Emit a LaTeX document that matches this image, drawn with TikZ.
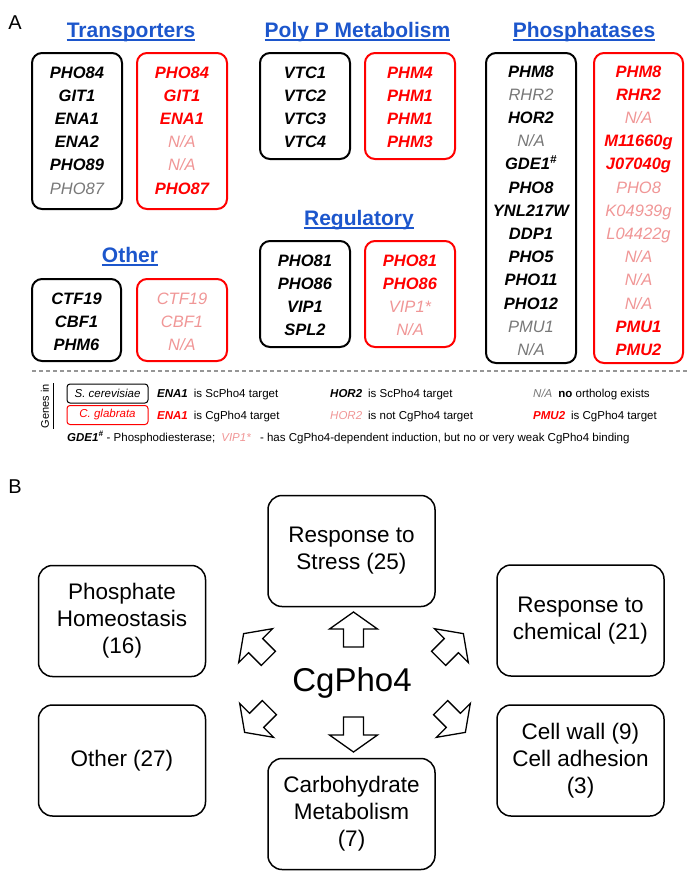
\documentclass[tikz,border=0pt]{standalone}
\usepackage{fontspec}
\setmainfont{Liberation Sans}
\usetikzlibrary{positioning}

\definecolor{titleblue}{RGB}{28,86,204}
\definecolor{cgred}{RGB}{255,0,0}
\definecolor{napink}{RGB}{240,150,150}
\definecolor{nagray}{RGB}{120,120,120}
\definecolor{dashgray}{RGB}{150,150,150}

\newcommand{\na}{N/A}
% gene column: name, x, baseline of first row, list of style/gene
\newcommand{\genelist}[4]{%
  \foreach \s/\g [count=\i from 0] in {#4}
    \node[gene\s] (#1-\i) at (#2, #3+\i*23.2) {\g};
}
\newcommand{\grouptitle}[4]{%
  \node[grouphead] (#1) at (#2,#3) {#4};
  \draw[titleblue, line width=2pt] ([yshift=-2pt]#1.base west) -- ([yshift=-2pt]#1.base east);
}

\tikzset{
  gene/.style={anchor=base, inner sep=0pt},
  geneb/.style={gene, font=\fontsize{16.5}{18}\selectfont\bfseries\itshape},
  gener/.style={gene, text=cgred, font=\fontsize{16.5}{18}\selectfont\bfseries\itshape},
  geneg/.style={gene, text=nagray, font=\fontsize{16.5}{18}\selectfont\itshape},
  genep/.style={gene, text=napink, font=\fontsize{16.5}{18}\selectfont\itshape},
  grouphead/.style={anchor=base, inner sep=0pt, text=titleblue, font=\fontsize{21}{24}\selectfont\bfseries},
  scbox/.style={line width=2pt, rounded corners=10pt},
  cgbox/.style={scbox, draw=cgred},
  legtxt/.style={anchor=base west, inner sep=0pt, font=\fontsize{11.5}{13}\selectfont},
  legbox/.style={draw, line width=1pt, rounded corners=3pt, minimum width=81pt, minimum height=19pt, inner sep=0pt, font=\fontsize{11.5}{13}\selectfont\itshape},
  catbox/.style={draw, line width=1.5pt, rounded corners=14pt, minimum width=167pt, minimum height=111pt, align=center, inner sep=2pt, font=\fontsize{22.5}{27}\selectfont},
  panel/.style={inner sep=0pt, font=\fontsize{20}{22}\selectfont},
  blockarr/.pic={
    \draw[line width=1.3pt, fill=white] (0,-17.5) -- (24,-0.5) -- (10,-0.5) -- (10,17.5) -- (-10,17.5) -- (-10,-0.5) -- (-24,-0.5) -- cycle;
  }
}

\begin{document}
\begin{tikzpicture}[x=1pt, y=-1pt]
  \useasboundingbox (0,0) rectangle (692,871);

  % ---- panel A ----
  \node[panel] (pa) at (15,23) {A};

  \grouptitle{ttrans}{131}{37.5}{Transporters}
  \grouptitle{tpoly}{357.5}{37.5}{Poly P Metabolism}
  \grouptitle{tphos}{584}{37.5}{Phosphatases}
  \grouptitle{tother}{130}{262.5}{Other}
  \grouptitle{treg}{359}{225.5}{Regulatory}

  \draw[scbox] (32,53) rectangle (122,209);
  \draw[cgbox] (137,53) rectangle (227,209);
  \draw[scbox] (260,53) rectangle (350,159);
  \draw[cgbox] (365,53) rectangle (455,159);
  \draw[scbox] (486,53) rectangle (576,363);
  \draw[cgbox] (594,53) rectangle (683,363);
  \draw[scbox] (32,279) rectangle (121,361);
  \draw[cgbox] (137,279) rectangle (227,361);
  \draw[scbox] (260,241) rectangle (350,347);
  \draw[cgbox] (365,241) rectangle (455,347);

  \genelist{trsc}{77}{78}{b/PHO84, b/GIT1, b/ENA1, b/ENA2, b/PHO89, g/PHO87}
  \genelist{trcg}{182}{78}{r/PHO84, r/GIT1, r/ENA1, p/\na, p/\na, r/PHO87}
  \genelist{posc}{305}{78}{b/VTC1, b/VTC2, b/VTC3, b/VTC4}
  \genelist{pocg}{410}{78}{r/PHM4, r/PHM1, r/PHM1, r/PHM3}
  \genelist{phsc}{531}{77}{b/PHM8, g/RHR2, b/HOR2, g/\na, b/{GDE1\textsuperscript{\#}}, b/PHO8, b/YNL217W, b/DDP1, b/PHO5, b/PHO11, b/PHO12, g/PMU1, g/\na}
  \genelist{phcg}{638.5}{77}{r/PHM8, r/RHR2, p/\na, r/M11660g, r/J07040g, p/PHO8, p/K04939g, p/L04422g, p/\na, p/\na, p/\na, r/PMU1, r/PMU2}
  \genelist{otsc}{76.5}{304}{b/CTF19, b/CBF1, b/PHM6}
  \genelist{otcg}{182}{304}{p/CTF19, p/CBF1, p/\na}
  \genelist{rgsc}{305}{266}{b/PHO81, b/PHO86, b/VIP1, b/SPL2}
  \genelist{rgcg}{410}{266}{r/PHO81, r/PHO86, p/VIP1*, p/\na}

  % legend
  \draw[dashgray, line width=1.5pt, dash pattern=on 4pt off 3pt] (32,371) -- (687,371);
  \node[rotate=90, inner sep=0pt, font=\fontsize{11}{12}\selectfont] (genesin) at (45,406) {Genes in};
  \draw[line width=0.8pt] (53.5,383) -- (53.5,429);
  \node[legbox] (lsc) at (107.5,393.5) {S. cerevisiae};
  \node[legbox, draw=cgred, text=cgred] (lcg) at (107.5,415) {C. glabrata};
  \node[legtxt] (l1a) at (157,397) {\textbf{\textit{ENA1}}\hspace{6pt}is ScPho4 target};
  \node[legtxt] (l1b) at (330,397) {\textbf{\textit{HOR2}}\hspace{6pt}is ScPho4 target};
  \node[legtxt] (l1c) at (533,397) {\textcolor{nagray}{\textit{N/A}}\hspace{6pt}\textbf{no} ortholog exists};
  \node[legtxt] (l2a) at (157,419) {\textcolor{cgred}{\textbf{\textit{ENA1}}}\hspace{6pt}is CgPho4 target};
  \node[legtxt] (l2b) at (330,419) {\textcolor{napink}{\textit{HOR2}}\hspace{6pt}is not CgPho4 target};
  \node[legtxt] (l2c) at (533,419) {\textcolor{cgred}{\textbf{\textit{PMU2}}}\hspace{6pt}is CgPho4 target};
  \node[legtxt] (l3) at (67,441) {\textbf{\textit{GDE1\textsuperscript{\#}}} - Phosphodiesterase;\hspace{6pt}\textcolor{napink}{\textit{VIP1*}}\hspace{9pt}- has CgPho4-dependent induction, but no or very weak CgPho4 binding};

  % ---- panel B ----
  \node[panel] (pb) at (15,487) {B};

  \node[catbox] (stress) at (351.5,551) {Response to\\Stress (25)};
  \node[catbox] (phos) at (122,621) {Phosphate\\Homeostasis\\(16)};
  \node[catbox] (other) at (122,760.5) {Other (27)};
  \node[catbox] (chem) at (580.5,620.5) {Response to\\chemical (21)};
  \node[catbox] (wall) at (580.5,760.5) {Cell wall (9)\\Cell adhesion\\(3)};
  \node[catbox] (carb) at (351.5,814) {Carbohydrate\\Metabolism\\(7)};

  \node[inner sep=0pt, font=\fontsize{33}{36}\selectfont] (pho4) at (352,683) {CgPho4};

  \pic at (353.5,629.5) {blockarr};
  \pic[rotate=180] at (353.5,734.5) {blockarr};
  \pic[rotate=45] at (256,646) {blockarr};
  \pic[rotate=-45] at (451,646) {blockarr};
  \pic[rotate=135] at (257,720) {blockarr};
  \pic[rotate=-135] at (453,720) {blockarr};
\end{tikzpicture}
\end{document}
